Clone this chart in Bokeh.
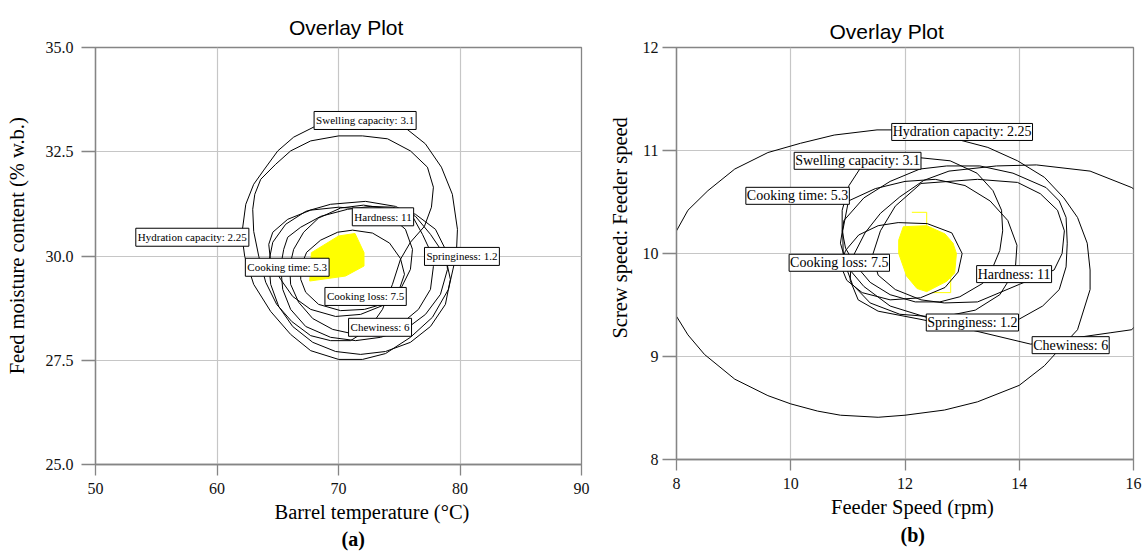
from bokeh.plotting import figure
from bokeh.models import Label, Range1d, FixedTicker, NumeralTickFormatter, Title
from bokeh.layouts import row
from bokeh.embed import file_html
from bokeh.resources import INLINE

# ---------------- data: panel (a) ----------------
a_xticks = [50, 60, 70, 80, 90]
a_yticks = [25.0, 27.5, 30.0, 32.5, 35.0]

a_swelling_x = [69.76, 73.05, 75.51, 77.15, 78.47, 79.37, 79.79, 79.70, 79.05, 77.73, 75.92, 73.87, 71.98,
                70.01, 67.71, 66.06, 64.42, 63.02, 62.28, 62.04, 62.37, 63.02, 63.85, 65.00, 66.31, 67.95]
a_swelling_y = [33.24, 33.24, 33.07, 32.69, 32.13, 31.48, 30.64, 30.04, 29.20, 28.53, 28.05, 27.66, 27.52,
                27.52, 27.73, 28.12, 28.67, 29.32, 29.99, 30.52, 31.24, 31.72, 32.06, 32.52, 32.85, 33.09]

a_hydration_x = [70.01, 71.98, 74.04, 75.92, 77.32, 77.81, 77.65, 77.07, 75.92, 75.10, 74.44, 73.62, 72.47, 70.99,
                 69.35, 67.71, 66.15, 64.91, 64.01, 63.44, 63.02, 62.94, 63.11, 63.60, 64.83, 66.06, 67.71]
a_hydration_y = [32.88, 32.88, 32.81, 32.52, 32.13, 31.65, 31.17, 30.71, 30.33, 29.92, 29.32, 28.72, 28.24, 27.97,
                 27.97, 28.09, 28.43, 28.84, 29.37, 29.99, 30.59, 31.12, 31.48, 31.84, 32.20, 32.52, 32.76]

a_hardness_x = [72.06, 74.28, 76.17, 76.91, 77.57, 77.81, 77.57, 76.58, 75.10, 73.30, 71.41, 69.52, 67.88, 66.72,
                66.06, 65.98, 66.31, 67.13, 68.36, 70.17]
a_hardness_y = [31.22, 31.12, 30.91, 30.52, 30.11, 29.75, 29.20, 28.72, 28.36, 28.17, 28.12, 28.24, 28.50, 28.89,
                29.32, 29.75, 30.16, 30.57, 30.91, 31.15]

a_cooktime_x = [64.26, 64.59, 65.82, 67.71, 70.01, 72.23, 74.28, 75.51, 76.09, 75.92, 75.10, 73.87, 71.82, 69.76,
                67.71, 66.23, 65.24, 64.42]
a_cooktime_y = [30.28, 30.57, 30.88, 31.10, 31.17, 31.12, 30.95, 30.64, 30.16, 29.68, 29.20, 28.84, 28.60, 28.55,
                28.72, 29.03, 29.44, 29.85]

a_cookloss_x = [66.89, 67.38, 68.53, 69.93, 71.16, 72.80, 74.20, 75.10, 75.43, 74.94, 73.79, 72.14, 70.17, 68.36,
                67.30, 66.89]
a_cookloss_y = [29.75, 30.09, 30.38, 30.57, 30.62, 30.55, 30.31, 29.94, 29.56, 29.15, 28.86, 28.72, 28.69, 28.84,
                29.13, 29.44]

a_chewiness_x = [65.49, 65.82, 66.89, 68.53, 70.75, 72.64, 74.45, 76.34, 77.98, 78.80, 78.97, 78.39, 77.16, 75.51,
                 73.46, 71.41, 69.35, 67.30, 66.06, 65.41, 65.24]
a_chewiness_y = [30.16, 30.45, 30.69, 30.95, 31.12, 31.19, 31.17, 31.00, 30.64, 30.16, 29.68, 29.08, 28.60, 28.24,
                 28.05, 27.97, 28.05, 28.31, 28.72, 29.20, 29.75]

a_springiness_x = [67.30, 69.35, 72.23, 74.69, 76.34, 77.57, 78.80, 79.21, 78.80, 77.57, 75.92, 73.87, 71.82, 69.76,
                   67.88, 66.23, 65.08, 64.42, 64.26, 64.59, 65.65]
a_springiness_y = [31.07, 31.24, 31.31, 31.19, 30.95, 30.52, 29.99, 29.44, 28.84, 28.31, 27.93, 27.71, 27.64, 27.71,
                   27.93, 28.31, 28.79, 29.32, 29.85, 30.33, 30.76]

a_yellow_x = [67.63, 67.77, 70.01, 71.36, 72.10, 72.10, 70.58, 67.63]
a_yellow_y = [29.40, 30.08, 30.48, 30.54, 30.08, 29.76, 29.52, 29.40]

a_label_text = ["Swelling capacity: 3.1", "Hardness: 11", "Hydration capacity: 2.25", "Springiness: 1.2",
                "Cooking time: 5.3", "Cooking loss: 7.5", "Chewiness: 6"]
a_label_x = [72.19, 73.66, 57.97, 80.16, 65.78, 72.23, 73.42]
a_label_y = [33.25, 30.94, 30.45, 29.99, 29.73, 29.03, 28.29]

# ---------------- data: panel (b) ----------------
b_xticks = [8, 10, 12, 14, 16]
b_yticks = [8, 9, 10, 11, 12]

b_hydration_x = [7.85, 8.00, 8.20, 8.55, 9.02, 9.60, 10.17, 10.76, 11.51, 12.18, 12.90, 13.45, 13.97, 14.44, 14.78,
                 15.02, 15.19, 15.24, 15.24, 15.02, 14.67, 14.44, 14.00, 13.27, 12.69, 12.00, 11.53, 10.87, 10.47,
                 10.00, 9.60, 9.02, 8.49, 8.20, 8.00]
b_hydration_y = [9.80, 10.22, 10.42, 10.61, 10.82, 10.98, 11.07, 11.15, 11.20, 11.20, 11.11, 11.03, 10.90, 10.74,
                 10.54, 10.35, 10.10, 9.84, 9.65, 9.26, 9.05, 8.91, 8.72, 8.56, 8.48, 8.43, 8.41, 8.43, 8.47, 8.54,
                 8.62, 8.78, 9.02, 9.21, 9.39]

b_chewiness_x = [15.97, 15.24, 14.30, 13.60, 12.77, 12.33, 11.91, 11.57, 11.30, 11.06, 11.04, 11.18, 11.53, 12.28,
                 13.22, 14.20, 15.59, 15.97, 16.44, 16.53, 16.27]
b_chewiness_y = [10.64, 10.80, 10.86, 10.85, 10.80, 10.71, 10.55, 10.39, 10.20, 9.94, 9.74, 9.55, 9.44, 9.36,
                 9.25, 9.12, 9.23, 9.26, 9.55, 10.13, 10.51]

b_swelling_x = [12.26, 12.79, 13.26, 13.54, 13.69, 13.71, 13.66, 13.54, 13.36, 12.96, 12.61, 12.18, 11.74, 11.39,
                11.13, 10.96, 10.90, 10.90, 11.02, 11.22, 11.65]
b_swelling_y = [10.93, 10.90, 10.78, 10.61, 10.42, 10.22, 10.03, 9.87, 9.71, 9.58, 9.53, 9.53, 9.60, 9.72,
                9.89, 10.05, 10.22, 10.42, 10.66, 10.83, 10.93]

b_springiness_x = [12.38, 11.74, 11.28, 10.99, 10.87, 10.93, 11.28, 11.74, 12.26, 12.73, 13.31, 13.89, 14.47, 14.70,
                   14.82, 14.84, 14.82, 14.70, 14.41, 13.99, 13.13]
b_springiness_y = [9.38, 9.49, 9.68, 9.87, 10.10, 10.32, 10.54, 10.70, 10.82, 10.85, 10.85, 10.78, 10.64, 10.51,
                   10.35, 10.10, 9.87, 9.65, 9.49, 9.36, 9.29]

b_hardness_x = [12.28, 13.27, 13.97, 14.37, 14.67, 14.79, 14.75, 14.61, 14.00, 13.27, 12.69, 12.28, 11.83, 11.53,
                11.43, 11.57, 11.83]
b_hardness_y = [10.68, 10.72, 10.69, 10.58, 10.42, 10.22, 10.00, 9.84, 9.70, 9.53, 9.52, 9.55, 9.65, 9.79,
                9.98, 10.22, 10.46]

b_cooktime_x = [11.01, 10.91, 10.92, 11.08, 11.39, 11.91, 12.61, 13.23, 13.66, 13.93, 13.96, 13.80, 13.49, 13.05,
                12.53, 12.00, 11.48]
b_cooktime_y = [10.51, 10.22, 9.94, 9.70, 9.52, 9.41, 9.38, 9.45, 9.60, 9.84, 10.08, 10.32, 10.51, 10.66,
                10.72, 10.70, 10.63]

b_cookloss_x = [10.87, 10.96, 11.19, 11.53, 11.88, 12.39, 12.82, 13.00, 12.93, 12.70, 12.27, 11.74, 11.25, 10.98]
b_cookloss_y = [9.89, 10.03, 10.18, 10.27, 10.30, 10.29, 10.20, 10.00, 9.82, 9.67, 9.57, 9.55, 9.62, 9.74]

b_yellow_x = [11.97, 12.38, 12.70, 12.84, 12.90, 12.87, 12.73, 12.38, 12.21, 12.03, 11.89, 11.89]
b_yellow_y = [10.26, 10.27, 10.19, 10.10, 10.00, 9.81, 9.73, 9.63, 9.66, 9.78, 10.00, 10.13]
b_yedge1_x = [12.12, 12.38, 12.38]
b_yedge1_y = [10.40, 10.40, 10.27]
b_yedge2_x = [12.80, 12.80, 12.47]
b_yedge2_y = [9.79, 9.62, 9.62]

b_label_text = ["Hydration capacity: 2.25", "Swelling capacity: 3.1", "Cooking time: 5.3", "Cooking loss: 7.5",
                "Hardness: 11", "Springiness: 1.2", "Chewiness: 6"]
b_label_x = [13.00, 11.17, 10.12, 10.85, 13.91, 13.18, 14.90]
b_label_y = [11.18, 10.90, 10.56, 9.91, 9.80, 9.33, 9.11]

# ---------------- styling ----------------
SERIF = "Liberation Serif"
SANS = "Liberation Sans"
FRAME = "#858585"
GRID = "#c6c6c6"
NB = "\u00a0"


def closed(xs, ys):
    return list(xs) + [xs[0]], list(ys) + [ys[0]]


def make_panel(xr, yr, xticks, yticks, fw, fh, bl, br, bt, bb, ytick_out, ystand):
    p = figure(x_range=Range1d(*xr), y_range=Range1d(*yr), frame_width=fw, frame_height=fh,
               min_border_left=bl, min_border_right=br, min_border_top=bt, min_border_bottom=bb,
               output_backend="svg", toolbar_location=None)
    p.background_fill_color = "white"
    p.border_fill_color = "white"
    p.outline_line_color = FRAME
    p.outline_line_width = 1.3
    p.xaxis.ticker = FixedTicker(ticks=xticks)
    p.yaxis.ticker = FixedTicker(ticks=yticks)
    p.xgrid.ticker = FixedTicker(ticks=xticks)
    p.ygrid.ticker = FixedTicker(ticks=yticks)
    p.grid.grid_line_color = GRID
    p.grid.grid_line_width = 1.2
    for ax in (p.xaxis, p.yaxis):
        ax.axis_line_color = FRAME
        ax.axis_line_width = 1.3
        ax.major_tick_line_color = FRAME
        ax.major_tick_line_width = 1.3
        ax.minor_tick_line_color = None
        ax.major_tick_in = 0
        ax.major_label_text_font = SERIF
        ax.major_label_text_font_size = "16px"
        ax.major_label_text_color = "#111111"
        ax.axis_label_text_font = SERIF
        ax.axis_label_text_font_size = "20.5px"
        ax.axis_label_text_font_style = "normal"
        ax.axis_label_text_color = "black"
    p.xaxis.major_tick_out = 11
    p.xaxis.major_label_standoff = 7
    p.yaxis.major_tick_out = ytick_out
    p.yaxis.major_label_standoff = ystand
    return p


def set_title(p, text, offset, standoff):
    p.title.text = text
    p.title.align = "left"
    p.title.offset = offset
    p.title.text_font = SANS
    p.title.text_font_size = "21px"
    p.title.text_font_style = "normal"
    p.title.text_color = "black"
    p.title.standoff = standoff
    p.title.vertical_align = "middle"


def add_below(p, text, offset, size, bold, standoff):
    p.add_layout(Title(text=text, align="left", offset=offset, text_font=SERIF, text_font_size=size,
                       text_font_style="bold" if bold else "normal", text_color="black",
                       standoff=standoff, vertical_align="middle"), "below")


def add_boxes(p, xs, ys, texts, size, pad):
    for x, y, t in zip(xs, ys, texts):
        p.add_layout(Label(x=x, y=y, text=t, text_font=SERIF, text_font_size=size,
                           text_align="center", text_baseline="middle", text_color="black",
                           background_fill_color="white", background_fill_alpha=1.0,
                           border_line_color="black", border_line_width=1, padding=pad))


# ---------------- panel (a) ----------------
pa = make_panel((50, 90), (25, 35), a_xticks, a_yticks, 486, 417, 95, 19, 43, 93, 14, 8)
pa.yaxis.formatter = NumeralTickFormatter(format="0.0")
pa.yaxis.axis_label = NB * 4 + "Feed moisture content (% w.b.)"
pa.yaxis.axis_label_standoff = 15
pa.patch(a_yellow_x, a_yellow_y, fill_color="#ffff00", line_color="#ffff00", line_width=1)
for cx, cy in [(a_swelling_x, a_swelling_y), (a_hydration_x, a_hydration_y), (a_hardness_x, a_hardness_y),
               (a_cooktime_x, a_cooktime_y), (a_cookloss_x, a_cookloss_y), (a_chewiness_x, a_chewiness_y),
               (a_springiness_x, a_springiness_y)]:
    xx, yy = closed(cx, cy)
    pa.line(xx, yy, line_color="black", line_width=1)
add_boxes(pa, a_label_x, a_label_y, a_label_text, "11px", (2, 3))
set_title(pa, "Overlay Plot", 193.5, 16)
add_below(pa, "Barrel temperature (\u00b0C)", 179, "20.5px", False, 6)
add_below(pa, "(a)", 246, "20px", True, 0)

# ---------------- panel (b) ----------------
pb = make_panel((8, 16), (8, 12), b_xticks, b_yticks, 457, 412, 76, 12, 47, 94, 14, 4)
pb.yaxis.axis_label = NB * 10 + "Screw speed: Feeder speed"
pb.yaxis.axis_label_standoff = 9
pb.patch(b_yellow_x, b_yellow_y, fill_color="#ffff00", line_color="#ffff00", line_width=1)
pb.line(b_yedge1_x, b_yedge1_y, line_color="#ffff00", line_width=1)
pb.line(b_yedge2_x, b_yedge2_y, line_color="#ffff00", line_width=1)
for cx, cy in [(b_hydration_x, b_hydration_y), (b_chewiness_x, b_chewiness_y), (b_swelling_x, b_swelling_y),
               (b_springiness_x, b_springiness_y), (b_hardness_x, b_hardness_y), (b_cooktime_x, b_cooktime_y),
               (b_cookloss_x, b_cookloss_y)]:
    xx, yy = closed(cx, cy)
    pb.line(xx, yy, line_color="black", line_width=1)
add_boxes(pb, b_label_x, b_label_y, b_label_text, "14px", 1)
set_title(pb, "Overlay Plot", 153, 7)
add_below(pb, "Feeder Speed (rpm)", 154.6, "20.5px", False, 7)
add_below(pb, "(b)", 224, "20px", True, 0)

layout = row(pa, pb)
open("out.html", "w").write(file_html(layout, INLINE))
